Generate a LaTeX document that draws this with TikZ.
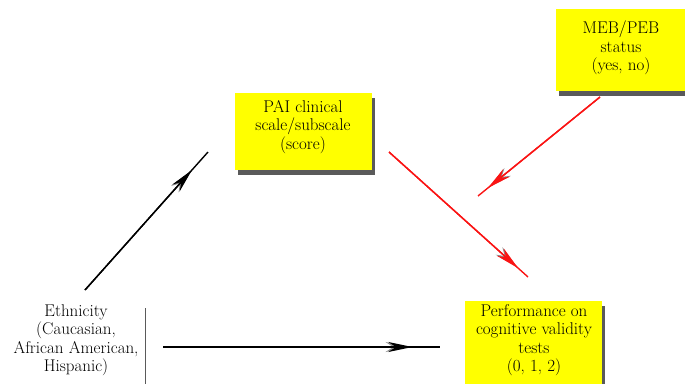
\documentclass[tikz,border=0pt]{standalone}
\usetikzlibrary{shadows,calc,arrows.meta}
\definecolor{boxyellow}{RGB}{255,255,0}
\definecolor{shadowgray}{RGB}{90,90,90}
\definecolor{arrred}{RGB}{250,20,20}
\tikzset{
  varbox/.style={rectangle, fill=boxyellow, anchor=north west, inner sep=0pt,
    drop shadow={shadow xshift=3pt, shadow yshift=-5pt, fill=shadowgray, opacity=1}},
  vartext/.style={align=center, font=\fontsize{17}{18.5}\selectfont, inner sep=0pt},
  blkline/.style={line width=1.4pt, black},
  redline/.style={line width=1.4pt, arrred},
  headtip/.style={-{Stealth[length=24pt,width=10pt]}},
  blkhead/.style={line width=1.4pt, black, headtip},
  redhead/.style={line width=1.4pt, arrred, headtip},
  grayhead/.style={line width=1pt, shadowgray!70, headtip},
}
\begin{document}
\begin{tikzpicture}[x=1pt,y=-1pt]
\useasboundingbox (0,0) rectangle (685,383);
% boxes
\node[varbox, minimum width=129pt, minimum height=82pt] (meb) at (556,9) {};
\node[varbox, minimum width=137pt, minimum height=77pt] (pai) at (235,93) {};
\node[varbox, minimum width=137pt, minimum height=95pt] (perf) at (465,301) {};
\draw[shadowgray, line width=0.8pt] (145,308) coordinate (ethA) -- (145,390) coordinate (ethB);
% texts
\node[vartext] (mebt) at (621,48) {MEB/PEB\\status\\(yes, no)};
\node[vartext] (pait) at (303,127) {PAI clinical\\scale/subscale\\(score)};
\node[vartext] (perft) at (534,340) {Performance on\\cognitive validity\\tests\\(0, 1, 2)};
\node[vartext] (etht) at (76,340) {Ethnicity\\(Caucasian,\\African American,\\Hispanic)};
% connector coordinates
\coordinate (a1s) at (85,290);
\coordinate (a1e) at (208,152);
\coordinate (a2s) at (163,347);
\coordinate (a2e) at (440,347);
\coordinate (a3s) at (389,152);
\coordinate (a3e) at (528,277);
\coordinate (a4s) at (600,97);
\coordinate (a4e) at (478,196);
% head shadows
\begin{scope}[shift={(2,3)}]
\draw[grayhead] ($(a1s)!0.75!(a1e)$) -- ($(a1s)!0.86!(a1e)$);
\draw[grayhead] ($(a2s)!0.75!(a2e)$) -- ($(a2s)!0.89!(a2e)$);
\draw[grayhead] ($(a3s)!0.8!(a3e)$) -- ($(a3s)!0.92!(a3e)$);
\draw[grayhead] ($(a4s)!0.8!(a4e)$) -- ($(a4s)!0.91!(a4e)$);
\end{scope}
% connectors
\draw[blkline] (a1s) -- (a1e);
\draw[blkhead] (a1s) -- ($(a1s)!0.87!(a1e)$);
\draw[blkline] (a2s) -- (a2e);
\draw[blkhead] (a2s) -- ($(a2s)!0.9!(a2e)$);
\draw[redline] (a3s) -- (a3e);
\draw[redhead] (a3s) -- ($(a3s)!0.93!(a3e)$);
\draw[redline] (a4s) -- (a4e);
\draw[redhead] (a4s) -- ($(a4s)!0.92!(a4e)$);
\end{tikzpicture}
\end{document}
